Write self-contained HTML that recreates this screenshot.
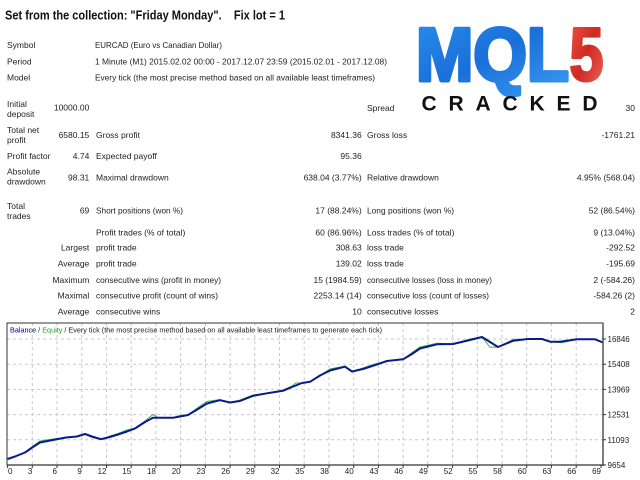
<!DOCTYPE html>
<html><head><meta charset="utf-8"><style>
html,body{margin:0;padding:0;background:#fff;}
svg{display:block;}
text{font-family:"Liberation Sans",Arial,sans-serif;}
</style></head><body>
<svg width="640" height="480" viewBox="0 0 640 480" xmlns="http://www.w3.org/2000/svg">
<defs>
<linearGradient id="gb" x1="0" y1="0" x2="1" y2="1">
<stop offset="0" stop-color="#2a8ef0"/><stop offset="0.5" stop-color="#1a6fd8"/><stop offset="1" stop-color="#3b9cf2"/>
</linearGradient>
<linearGradient id="gr" x1="0" y1="0" x2="1" y2="1">
<stop offset="0" stop-color="#f0564a"/><stop offset="0.5" stop-color="#cf2a22"/><stop offset="1" stop-color="#f26a5e"/>
</linearGradient>
</defs>
<rect width="640" height="480" fill="#fff"/>

<!-- Title -->
<text x="5" y="19.5" font-size="12.5" font-weight="bold" fill="#111" textLength="280" lengthAdjust="spacingAndGlyphs">Set from the collection: "Friday Monday".&#160;&#160;&#160; Fix lot = 1</text>

<!-- Logo -->
<text x="416" y="80.5" font-size="75" font-weight="bold" fill="url(#gb)" stroke="url(#gb)" stroke-width="4" stroke-linejoin="round" textLength="153" lengthAdjust="spacingAndGlyphs">MQL</text>
<text x="569.5" y="80.5" font-size="75" font-weight="bold" fill="url(#gr)" stroke="url(#gr)" stroke-width="3" stroke-linejoin="round" textLength="34" lengthAdjust="spacingAndGlyphs">5</text>
<text x="421.5" y="110.5" font-size="21" font-weight="bold" fill="#111" textLength="176" lengthAdjust="spacing">CRACKED</text>

<g font-size="8.5" fill="#222">
<!-- header rows -->
<text x="7" y="48">Symbol</text>
<text x="95" y="48" textLength="127" lengthAdjust="spacingAndGlyphs">EURCAD (Euro vs Canadian Dollar)</text>
<text x="7" y="64.7">Period</text>
<text x="95" y="64.7" textLength="292" lengthAdjust="spacingAndGlyphs">1 Minute (M1) 2015.02.02 00:00 - 2017.12.07 23:59 (2015.02.01 - 2017.12.08)</text>
<text x="7" y="80.3">Model</text>
<text x="95" y="80.3" textLength="280" lengthAdjust="spacingAndGlyphs">Every tick (the most precise method based on all available least timeframes)</text>

<!-- stats -->
<text x="7" y="107">Initial</text>
<text x="7" y="117">deposit</text>
<text x="89.3" y="110.3" text-anchor="end">10000.00</text>
<text x="367" y="111">Spread</text>
<text x="635" y="111" text-anchor="end">30</text>

<text x="7" y="133">Total net</text>
<text x="7" y="143">profit</text>
<text x="89.3" y="138" text-anchor="end">6580.15</text>
<text x="96" y="138">Gross profit</text>
<text x="361.7" y="138" text-anchor="end">8341.36</text>
<text x="367" y="138">Gross loss</text>
<text x="635" y="138" text-anchor="end">-1761.21</text>

<text x="7" y="159">Profit factor</text>
<text x="89.3" y="159" text-anchor="end">4.74</text>
<text x="96" y="159">Expected payoff</text>
<text x="361.7" y="159" text-anchor="end">95.36</text>

<text x="7" y="174.7">Absolute</text>
<text x="7" y="184.7">drawdown</text>
<text x="89.3" y="180.3" text-anchor="end">98.31</text>
<text x="96" y="180.3">Maximal drawdown</text>
<text x="361.7" y="180.3" text-anchor="end">638.04 (3.77%)</text>
<text x="367" y="180.3">Relative drawdown</text>
<text x="635" y="180.3" text-anchor="end">4.95% (568.04)</text>

<text x="7" y="209">Total</text>
<text x="7" y="219">trades</text>
<text x="89.3" y="213.5" text-anchor="end">69</text>
<text x="96" y="213.5" textLength="87" lengthAdjust="spacingAndGlyphs">Short positions (won %)</text>
<text x="361.7" y="213.5" text-anchor="end">17 (88.24%)</text>
<text x="367" y="213.5" textLength="87" lengthAdjust="spacingAndGlyphs">Long positions (won %)</text>
<text x="635" y="213.5" text-anchor="end">52 (86.54%)</text>

<text x="96" y="235.7">Profit trades (% of total)</text>
<text x="361.7" y="235.7" text-anchor="end">60 (86.96%)</text>
<text x="367" y="235.7">Loss trades (% of total)</text>
<text x="635" y="235.7" text-anchor="end">9 (13.04%)</text>

<text x="89.3" y="250.7" text-anchor="end">Largest</text>
<text x="96" y="250.7">profit trade</text>
<text x="361.7" y="250.7" text-anchor="end">308.63</text>
<text x="367" y="250.7">loss trade</text>
<text x="635" y="250.7" text-anchor="end">-292.52</text>

<text x="89.3" y="266.3" text-anchor="end">Average</text>
<text x="96" y="266.3">profit trade</text>
<text x="361.7" y="266.3" text-anchor="end">139.02</text>
<text x="367" y="266.3">loss trade</text>
<text x="635" y="266.3" text-anchor="end">-195.69</text>

<text x="89.3" y="283" text-anchor="end">Maximum</text>
<text x="96" y="283" textLength="125" lengthAdjust="spacingAndGlyphs">consecutive wins (profit in money)</text>
<text x="361.7" y="283" text-anchor="end">15 (1984.59)</text>
<text x="367" y="283" textLength="125" lengthAdjust="spacingAndGlyphs">consecutive losses (loss in money)</text>
<text x="635" y="283" text-anchor="end">2 (-584.26)</text>

<text x="89.3" y="298.7" text-anchor="end">Maximal</text>
<text x="96" y="298.7" textLength="122" lengthAdjust="spacingAndGlyphs">consecutive profit (count of wins)</text>
<text x="361.7" y="298.7" text-anchor="end">2253.14 (14)</text>
<text x="367" y="298.7" textLength="122" lengthAdjust="spacingAndGlyphs">consecutive loss (count of losses)</text>
<text x="635" y="298.7" text-anchor="end">-584.26 (2)</text>

<text x="89.3" y="314.7" text-anchor="end">Average</text>
<text x="96" y="314.7">consecutive wins</text>
<text x="361.7" y="314.7" text-anchor="end">10</text>
<text x="367" y="314.7">consecutive losses</text>
<text x="635" y="314.7" text-anchor="end">2</text>
</g>

<!-- Chart -->
<g stroke="#c8c8c8" stroke-width="1" stroke-dasharray="3,3" fill="none">
<line x1="7" y1="339" x2="603" y2="339"/>
<line x1="7" y1="364.2" x2="603" y2="364.2"/>
<line x1="7" y1="389.4" x2="603" y2="389.4"/>
<line x1="7" y1="414.6" x2="603" y2="414.6"/>
<line x1="7" y1="439.8" x2="603" y2="439.8"/>
<path d="M32.3 323V465M57 323V465M81.8 323V465M106.5 323V465M131.2 323V465M155.9 323V465M180.6 323V465M205.4 323V465M230.1 323V465M254.8 323V465M279.5 323V465M304.2 323V465M329 323V465M353.7 323V465M378.4 323V465M403.1 323V465M427.8 323V465M452.6 323V465M477.3 323V465M502 323V465M526.7 323V465M551.4 323V465M576.2 323V465"/>
</g>

<polyline fill="none" stroke="#3cb043" stroke-width="1" points="7.6,459 15,456.5 25,452.5 33,446 40,441 53,439 66,437.5 77,436.5 85,434 92,437.5 101,439.5 110,436 118,433.5 127,430 135,428 145,421 153,414.5 158,417.5 173,417.5 180,415.5 188,415 198,407.5 207,401.5 220,399.5 230,402.5 240,400 253,395 267,393 283,390 292,386 296,383 302,383 310,381.8 320,375.5 330,369 345,366 352,371.5 363,368 373,364.5 387,361 403,359.3 412,352.5 420,347 437,343.3 453,344 470,339 482,337 490,347.3 498,347 513,339.5 528,339 542,339 550,341.7 562,342.7 577,339.3 595,339.3 603,342.5"/>
<polyline fill="none" stroke="#0a1a8c" stroke-width="2" stroke-linejoin="round" points="7.6,459 15,456.5 25,452.5 33,447 40,442.5 53,440 66,437.5 77,436.5 85,434 92,436.5 101,439.2 110,437 118,434.5 127,431.5 135,428.5 145,422 153,417.8 173,417.8 180,416.5 188,415 198,409 207,403.5 220,400.2 230,402.5 240,401 253,395.8 267,393.3 283,390.8 292,387 302,383 310,381.8 320,375.5 330,370.5 345,366.7 352,371.5 363,369 373,365.8 387,361 403,359.3 412,354 420,348.5 437,344.3 453,344 470,340 482,337 490,342 498,347 513,340.8 528,339 542,339 550,341.7 560,341.7 577,339.3 595,339.3 603,342.5"/>

<!-- frame -->
<rect x="7" y="323" width="596" height="142" fill="none" stroke="#333" stroke-width="1"/>
<line x1="7" y1="465" x2="604" y2="465" stroke="#555" stroke-width="1.5"/>
<line x1="603" y1="323" x2="603" y2="466" stroke="#555" stroke-width="1.5"/>

<!-- ticks -->
<g stroke="#333" stroke-width="1">
<path d="M603 339h3M603 364.2h3M603 389.4h3M603 414.6h3M603 439.8h3M603 465h3"/>
<path d="M7.6 465v3M32.3 465v3M57 465v3M81.8 465v3M106.5 465v3M131.2 465v3M155.9 465v3M180.6 465v3M205.4 465v3M230.1 465v3M254.8 465v3M279.5 465v3M304.2 465v3M329 465v3M353.7 465v3M378.4 465v3M403.1 465v3M427.8 465v3M452.6 465v3M477.3 465v3M502 465v3M526.7 465v3M551.4 465v3M576.2 465v3M601 465v3"/>
</g>

<!-- legend -->
<text x="10" y="332.5" font-size="7.5" fill="#222" textLength="372" lengthAdjust="spacingAndGlyphs"><tspan fill="#00008b">Balance</tspan> / <tspan fill="#2a9a2a">Equity</tspan> / Every tick (the most precise method based on all available least timeframes to generate each tick)</text>

<!-- y labels -->
<g font-size="8" fill="#222">
<text x="607.5" y="342">16846</text>
<text x="607.5" y="367.2">15408</text>
<text x="607.5" y="392.4">13969</text>
<text x="607.5" y="417.6">12531</text>
<text x="607.5" y="442.8">11093</text>
<text x="607.5" y="468">9654</text>
</g>

<!-- x labels -->
<g font-size="8" fill="#222" text-anchor="end">
<text x="12.5" y="474">0</text>
<text x="32.3" y="474">3</text>
<text x="57" y="474">6</text>
<text x="81.8" y="474">9</text>
<text x="106.5" y="474">12</text>
<text x="131.2" y="474">15</text>
<text x="155.9" y="474">18</text>
<text x="180.6" y="474">20</text>
<text x="205.4" y="474">23</text>
<text x="230.1" y="474">26</text>
<text x="254.8" y="474">29</text>
<text x="279.5" y="474">32</text>
<text x="304.2" y="474">35</text>
<text x="329" y="474">38</text>
<text x="353.7" y="474">40</text>
<text x="378.4" y="474">43</text>
<text x="403.1" y="474">46</text>
<text x="427.8" y="474">49</text>
<text x="452.6" y="474">52</text>
<text x="477.3" y="474">55</text>
<text x="502" y="474">58</text>
<text x="526.7" y="474">60</text>
<text x="551.4" y="474">63</text>
<text x="576.2" y="474">66</text>
<text x="601" y="474">69</text>
</g>
</svg>
</body></html>
